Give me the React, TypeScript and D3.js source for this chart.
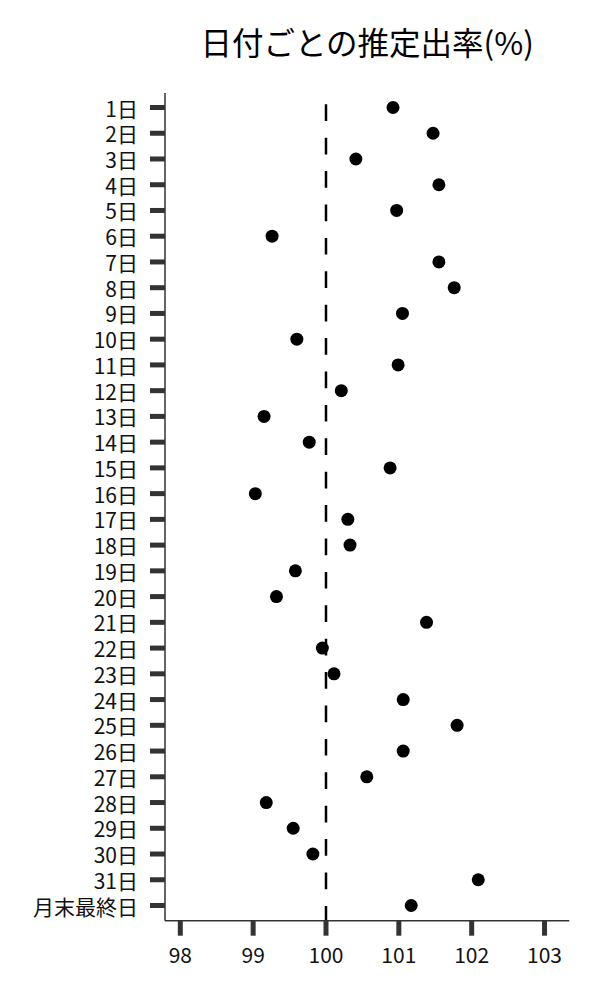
import React from 'react';
import * as d3 from 'd3';

const days = [
  '1日', '2日', '3日', '4日', '5日', '6日', '7日', '8日', '9日', '10日',
  '11日', '12日', '13日', '14日', '15日', '16日', '17日', '18日', '19日', '20日',
  '21日', '22日', '23日', '24日', '25日', '26日', '27日', '28日', '29日', '30日',
  '31日', '月末最終日',
];

const rates = [
  100.92, 101.47, 100.41, 101.55, 100.97, 99.26, 101.55, 101.76, 101.05, 99.6,
  100.99, 100.21, 99.15, 99.77, 100.88, 99.03, 100.3, 100.33, 99.58, 99.32,
  101.38, 99.95, 100.11, 101.06, 101.8, 101.06, 100.56, 99.18, 99.55, 99.82,
  102.09, 101.17,
];

const xTicks = [98, 99, 100, 101, 102, 103];
const refValue = 100;
const title = '日付ごとの推定出率(%)';

const font = '"Noto Sans CJK JP", "Noto Sans", sans-serif';

export default function App() {
  const width = 600;
  const height = 1000;
  const left = 165;
  const right = 569.3;
  const top = 93;
  const bottom = 920.7;

  const x = d3.scaleLinear().domain([97.79, 103.34]).range([left, right]);
  const y = d3.scalePoint<string>().domain(days).range([107.5, 905.5]);

  return (
    <div style={{ position: 'absolute', left: 0, top: 0 }}>
      <svg width={width} height={height} style={{ display: 'block', background: '#fff' }}>
        <text
          x={(left + right) / 2}
          y={55}
          textAnchor="middle"
          fontFamily={font}
          fontSize={31.5}
          fill="#000"
        >
          {title}
        </text>

        {/* reference line */}
        <line
          x1={x(refValue)}
          x2={x(refValue)}
          y1={104.3}
          y2={bottom}
          stroke="#000"
          strokeWidth={2.5}
          strokeDasharray="16.7,16.7"
        />

        {/* y axis */}
        <line x1={left} x2={left} y1={top} y2={bottom} stroke="#333" strokeWidth={1.5} />
        {days.map((d) => (
          <g key={d}>
            <line
              x1={left - 15}
              x2={left}
              y1={y(d)}
              y2={y(d)}
              stroke="#333"
              strokeWidth={5}
            />
            <text
              x={left - 27}
              y={y(d)}
              textAnchor="end"
              dominantBaseline="central"
              fontFamily={font}
              fontSize={21}
              fill="#111"
            >
              {d}
            </text>
          </g>
        ))}

        {/* x axis */}
        <line x1={left} x2={right} y1={bottom} y2={bottom} stroke="#333" strokeWidth={1.5} />
        {xTicks.map((t) => (
          <g key={t}>
            <line
              x1={x(t)}
              x2={x(t)}
              y1={bottom}
              y2={bottom + 15}
              stroke="#333"
              strokeWidth={5}
            />
            <text
              x={x(t)}
              y={963}
              textAnchor="middle"
              fontFamily={font}
              fontSize={21}
              fill="#111"
            >
              {t}
            </text>
          </g>
        ))}

        {/* points */}
        {days.map((d, i) => (
          <circle key={d} cx={x(rates[i])} cy={y(d)} r={6.5} fill="#000" />
        ))}
      </svg>
    </div>
  );
}
